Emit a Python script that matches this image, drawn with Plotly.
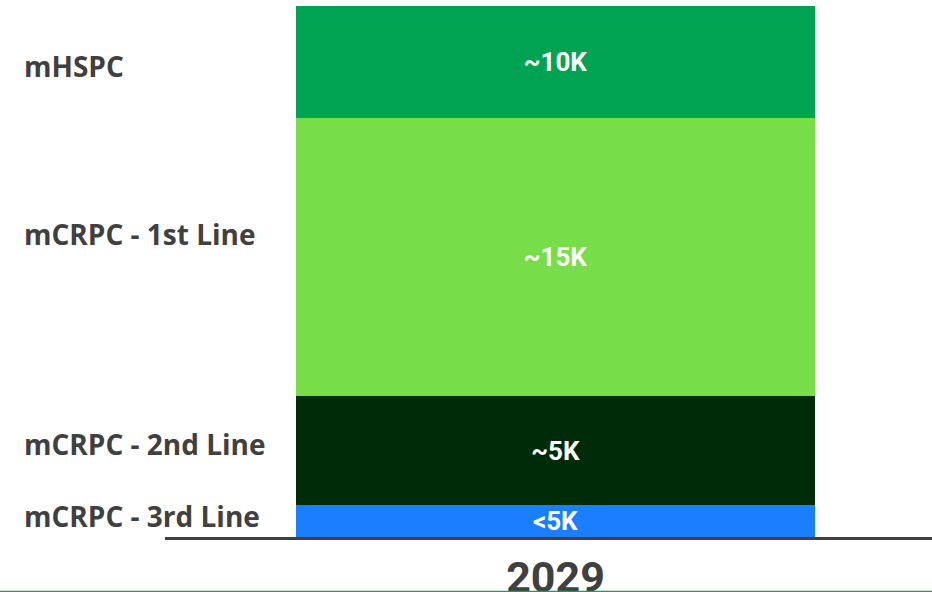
import plotly.graph_objects as go

# Data (stack order bottom -> top)
categories = ["mCRPC - 3rd Line", "mCRPC - 2nd Line", "mCRPC - 1st Line", "mHSPC"]
bar_values = [1.6, 5.45, 13.9, 5.6]          # relative segment heights
bar_labels = ["<5K", "~5K", "~15K", "~10K"]
colors = ["#1A7EFF", "#002B08", "#77DD48", "#00A352"]
year_labels = ["2029"]
label_y_paper = [0.0395, 0.175, 0.5706, 0.887]  # left label vertical positions

W, H = 932, 592
ml, mr, mt, mb = 165, 0, 6, 55

fig = go.Figure()
for cat, v, lab, c in zip(categories, bar_values, bar_labels, colors):
    fig.add_trace(go.Bar(
        x=[0], y=[v], width=[1], name=cat,
        marker=dict(color=c, line=dict(width=0)),
        text=[lab], textposition="inside", insidetextanchor="middle",
        textfont=dict(family="Roboto, Arial", size=26, color="white", weight="bold"),
        textangle=0, hoverinfo="skip",
    ))

total = sum(bar_values)
fig.update_layout(
    barmode="stack", width=W, height=H,
    margin=dict(l=ml, r=mr, t=mt, b=mb, pad=0),
    paper_bgcolor="white", plot_bgcolor="white",
    showlegend=False,
    uniformtext=dict(minsize=26, mode="show"),
    xaxis=dict(range=[-0.7524, 0.7254], showgrid=False, zeroline=False,
               showline=True, linewidth=3, linecolor="#404040",
               tickvals=[0], ticktext=year_labels, ticks="", automargin=False,
               tickfont=dict(family="Roboto, Arial", size=43, color="#404040", weight="bold")),
    yaxis=dict(range=[0, total], visible=False, fixedrange=True, automargin=False),
)

for cat, yp in zip(categories, label_y_paper):
    fig.add_annotation(
        text=cat, xref="paper", yref="paper",
        x=(22 - ml) / (W - ml - mr), y=yp, xanchor="left", yanchor="middle",
        showarrow=False,
        font=dict(family="Open Sans, Arial", size=28, color="#404040", weight="bold"),
    )

plot_h = H - mt - mb
fig.add_shape(type="line", xref="paper", yref="paper",
              x0=-ml / (W - ml - mr), x1=1, y0=-(54.5) / plot_h, y1=-(54.5) / plot_h,
              line=dict(color="#1E9A5E", width=1.5))

fig.write_html("out.html")
